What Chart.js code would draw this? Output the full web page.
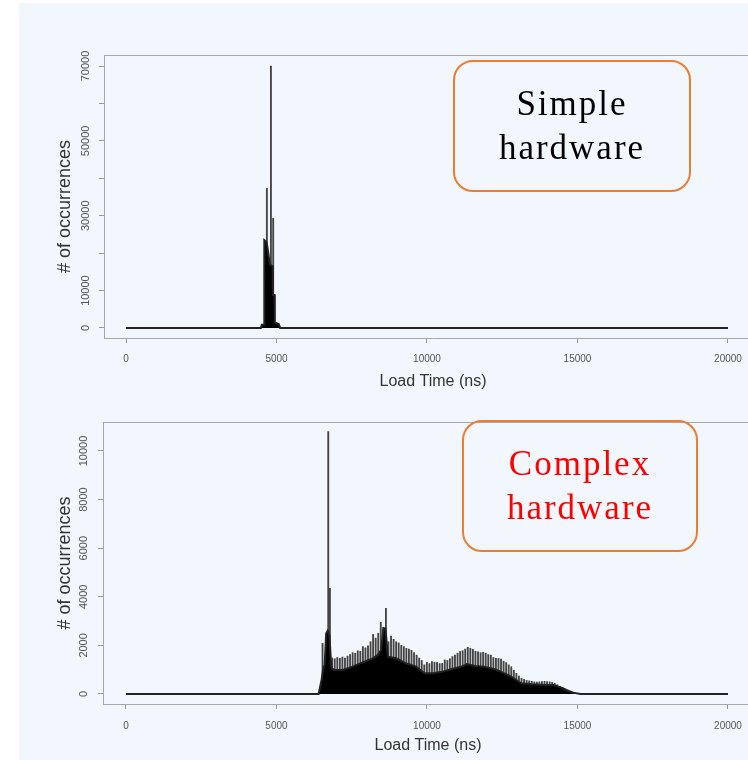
<!DOCTYPE html>
<html>
<head>
<meta charset="utf-8">
<script src="https://cdn.jsdelivr.net/npm/chart.js@4.4.0/dist/chart.umd.min.js"></script>
<style>
html, body { margin: 0; padding: 0; overflow: hidden; }
body { width: 748px; height: 760px; position: relative; background: #fff; }
#bg { position: absolute; left: 19px; top: 3px; right: 0; bottom: 0; background: #f2f7fe; }
canvas { position: absolute; left: 0; }
#c1 { top: 0; }
#c2 { top: 395px; }
.note {
  position: absolute; box-sizing: border-box; border: 2px solid #ed7d31; border-radius: 20px;
  font-family: "Liberation Serif", "Times New Roman", serif; font-size: 35px; letter-spacing: 2px;
  line-height: 44px; text-align: center; display: flex; flex-direction: column; justify-content: center;
}
#n1 { left: 453px; top: 60px; width: 238px; height: 132px; color: #000; }
#n2 { left: 462px; top: 420px; width: 236px; height: 132px; color: #ff0000; }
</style>
</head>
<body>
<div id="bg"></div>
<canvas id="c1" width="762" height="395"></canvas>
<canvas id="c2" width="753" height="365"></canvas>
<div class="note" id="n1"><div>Simple</div><div>hardware</div></div>
<div class="note" id="n2"><div>Complex</div><div>hardware</div></div>
<script>
// x axis ticks (ns)
xTicks = [0, 5000, 10000, 15000, 20000]

// simple hardware: solid part of the histogram + the tall single bins
simpleTimes = [0, 4480, 4510, 4585, 4595, 4670, 4700, 4780, 4815, 4870, 4880, 4935, 4945, 5080, 5120, 20000]
simpleCounts = [0, 0, 900, 900, 23500, 23000, 21500, 17000, 16800, 16500, 8800, 8800, 1500, 1000, 0, 0]
simplePeakTimes = [4680, 4815, 4890]
simplePeakCounts = [37300, 70000, 29300]
simpleYTicks = [0, 10000, 20000, 30000, 40000, 50000, 60000, 70000]
simpleYLabels = [0, 10000, 30000, 50000, 70000]

// complex hardware: solid part + the periodic spikes on top
complexTimes = [0, 6400, 6450, 6500, 6560, 6600, 6650, 6700, 6760, 6820, 6900, 7200, 7530, 7920, 8200, 8360, 8475, 8553, 8620, 8700, 8975, 9300, 9640, 9920, 10190, 10530, 10800, 11140, 11330, 11600, 11900, 12250, 12450, 12800, 12970, 13130, 13500, 13900, 14200, 14470, 14630, 14850, 15100, 20000]
complexCounts = [0, 0, 300, 600, 1100, 1200, 2500, 2600, 2400, 1100, 990, 990, 1125, 1330, 1468, 1605, 1810, 2700, 2700, 1536, 1468, 1262, 1125, 851, 851, 920, 1015, 1125, 1235, 1152, 1125, 1015, 919, 713, 576, 439, 398, 370, 370, 261, 165, 55, 0, 0]
complexSpikeTimes = [6530, 6720, 6775,
  6850, 6935, 7020, 7105, 7190, 7275, 7360, 7445, 7530, 7615, 7700, 7785, 7870, 7955, 8040, 8125,
  8210, 8295, 8380, 8465, 8550, 8635, 8720, 8805, 8890, 8975, 9060, 9145, 9230, 9315, 9400, 9485,
  9570, 9655, 9740, 9825, 9910, 9995, 10080, 10165, 10250, 10335, 10420, 10505, 10590, 10675, 10760, 10845,
  10930, 11015, 11100, 11185, 11270, 11355, 11440, 11525, 11610, 11695, 11780, 11865, 11950, 12035, 12120, 12205,
  12290, 12375, 12460, 12545, 12630, 12715, 12800, 12885, 12970, 13055, 13140, 13225, 13310, 13395, 13480, 13565,
  13650, 13735, 13820, 13905, 13990, 14075, 14160, 14245, 14330, 14415, 14500, 14585, 14670, 14755, 14840, 14925]
complexSpikeCounts = [2085, 10800, 4350,
  1480, 1450, 1500, 1470, 1520, 1480, 1560, 1620, 1700, 1680, 1780, 1760, 1950, 1900, 1980, 2150,
  2450, 2300, 2500, 2950, 2750, 3525, 2150, 2380, 2250, 2150, 2100, 2000, 1950, 1880, 1850, 1800,
  1700, 1600, 1480, 1380, 1200, 1300, 1250, 1330, 1310, 1300, 1250, 1260, 1400, 1380, 1450, 1540,
  1600, 1680, 1750, 1780, 1850, 1920, 1880, 1840, 1760, 1740, 1700, 1720, 1680, 1620, 1600, 1500,
  1470, 1460, 1440, 1350, 1290, 1200, 1120, 980, 850, 740, 650, 600, 560, 540, 520, 500,
  490, 500, 510, 520, 510, 500, 480, 440, 380, 310, 260, 200, 150, 110, 80, 40]
complexYTicks = [0, 2000, 4000, 6000, 8000, 10000]

Chart.defaults.font.family = '"Liberation Sans", Arial, Helvetica, sans-serif'
Chart.defaults.color = '#555'

const boxTop = {
  id: 'boxTop',
  afterDraw(chart) {
    const a = chart.chartArea, c = chart.ctx
    c.save()
    c.strokeStyle = '#a8a8a8'
    c.lineWidth = 1
    c.beginPath()
    c.moveTo(a.left, a.top + 0.5)
    c.lineTo(a.right, a.top + 0.5)
    c.stroke()
    c.restore()
  }
}

function pts(xs, ys) {
  return xs.map((x, i) => ({ x: x, y: ys[i] }))
}

function histChart(id, o) {
  const ctx = document.getElementById(id).getContext('2d')
  return new Chart(ctx, {
    type: 'line',
    data: {
      datasets: [{
        type: 'line',
        data: pts(o.times, o.counts),
        fill: 'origin',
        backgroundColor: '#000',
        borderColor: '#222',
        borderWidth: 2,
        pointRadius: 0,
        tension: 0,
        order: 1
      }, {
        type: 'bar',
        data: pts(o.spikeTimes, o.spikeCounts),
        backgroundColor: '#444',
        borderWidth: 0,
        barThickness: 1.2,
        order: 2
      }]
    },
    options: {
      responsive: false,
      animation: false,
      layout: { padding: { top: o.padTop, left: 0, right: 0, bottom: 0 } },
      plugins: { legend: { display: false }, tooltip: { enabled: false } },
      scales: {
        x: {
          type: 'linear',
          offset: false,
          min: o.xMin,
          max: o.xMax,
          grid: { display: true, offset: false, drawOnChartArea: false, drawTicks: true, tickLength: 5, color: '#999' },
          border: { display: true, color: '#a8a8a8', width: 1 },
          ticks: { autoSkip: false, maxRotation: 0, font: { size: 10 }, color: '#555', padding: o.xPad,
            callback: v => String(v) },
          afterBuildTicks: s => { s.ticks = xTicks.map(v => ({ value: v })) },
          afterFit: s => { s.height = o.xHeight },
          title: { display: true, text: 'Load Time (ns)', color: '#333', font: { size: 16 }, padding: { top: 0, bottom: o.xTitlePad } }
        },
        y: {
          type: 'linear',
          min: o.yMin,
          max: o.yMax,
          grid: { display: true, drawOnChartArea: false, drawTicks: true, tickLength: 5, color: '#999' },
          border: { display: true, color: '#a8a8a8', width: 1 },
          ticks: {
            autoSkip: false, minRotation: 90, maxRotation: 90, crossAlign: 'center', padding: o.yPad,
            font: { size: 11 }, color: '#555',
            callback: v => (o.yLabels.indexOf(v) >= 0 ? String(v) : '')
          },
          afterBuildTicks: s => { s.ticks = o.yTicks.map(v => ({ value: v })) },
          afterFit: s => { s.width = o.yWidth },
          title: { display: true, text: o.yTitle, color: '#333', font: { size: 18 }, padding: { top: 54, bottom: 0 } }
        }
      }
    },
    plugins: [boxTop]
  })
}

histChart('c1', {
  times: simpleTimes, counts: simpleCounts,
  spikeTimes: simplePeakTimes, spikeCounts: simplePeakCounts,
  padTop: 55, xMin: -731, xMax: 21130, xHeight: 57, xPad: 10, xTitlePad: 4,
  yMin: -2672, yMax: 72939, yTicks: simpleYTicks, yLabels: simpleYLabels, yWidth: 104, yPad: -2,
  yTitle: '# of occurrences    '
})

histChart('c2', {
  times: complexTimes, counts: complexCounts,
  spikeTimes: complexSpikeTimes, spikeCounts: complexSpikeCounts,
  padTop: 27, xMin: -764, xMax: 20831, xHeight: 56, xPad: 11, xTitlePad: 5,
  yMin: -412, yMax: 11193, yTicks: complexYTicks, yLabels: complexYTicks, yWidth: 103, yPad: -1,
  yTitle: '# of occurrences'
})
</script>
</body>
</html>
